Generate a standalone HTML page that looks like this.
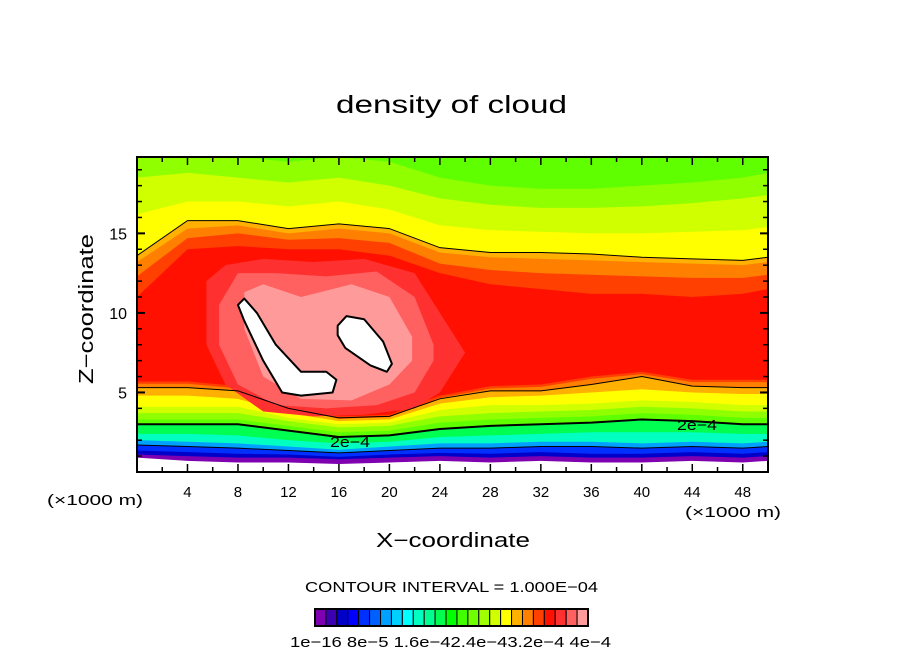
<!DOCTYPE html>
<html><head><meta charset="utf-8"><style>
html,body{margin:0;padding:0;background:#fff;}
svg{display:block;font-family:"Liberation Sans",sans-serif;}
</style></head><body>
<svg id="chart" width="904" height="654" viewBox="0 0 904 654" xmlns="http://www.w3.org/2000/svg">
<defs><clipPath id="pc"><rect x="137" y="157" width="631" height="315"/></clipPath></defs>
<text x="336" y="113" font-size="25" textLength="231" lengthAdjust="spacingAndGlyphs">density of cloud</text>
<g id="plot" clip-path="url(#pc)"></g>
<g id="lines" clip-path="url(#pc)"></g>
<rect x="137" y="157" width="631" height="315" fill="none" stroke="#000" stroke-width="2"/>
<g id="ticks"></g>
<text transform="translate(93,384) rotate(-90)" font-size="20" textLength="150" lengthAdjust="spacingAndGlyphs">Z−coordinate</text>
<text x="376" y="547" font-size="20" textLength="154" lengthAdjust="spacingAndGlyphs">X−coordinate</text>
<text x="47" y="505" font-size="15" textLength="96" lengthAdjust="spacingAndGlyphs">(×1000 m)</text>
<text x="685" y="517" font-size="15" textLength="96" lengthAdjust="spacingAndGlyphs">(×1000 m)</text>
<text x="305" y="592" font-size="15" textLength="293" lengthAdjust="spacingAndGlyphs">CONTOUR INTERVAL = 1.000E−04</text>
<g id="cbar"></g>
<text x="290" y="647" font-size="15" textLength="321" lengthAdjust="spacingAndGlyphs">1e−16 8e−5 1.6e−42.4e−43.2e−4 4e−4</text>
</svg>
<script>
const xs=[0,4,8,12,16,20,24,28,32,36,40,44,48,50];
const palette=['#7f00b0','#3c00b0','#0000c8','#0000ff','#0030ff','#0060ff','#00a0ff','#00d0ff','#00ffff','#00ffc0','#00ff90','#00ff50','#00ff00','#40ff00','#70ff00','#a0ff00','#d0ff00','#ffff00','#ffb000','#ff8000','#ff4000','#ff1000','#ff3030','#ff6060','#ff9a9a'];
const loPurple=[0.9,0.7,0.6,0.6,0.5,0.6,0.7,0.6,0.7,0.6,0.6,0.7,0.6,0.7];
const loIndigo=[1.1,1.0,0.9,0.9,0.8,0.9,1.0,0.9,1.0,0.9,0.9,1.0,0.9,1.0];
const loBlue=[1.35,1.25,1.15,1.1,0.95,1.1,1.2,1.15,1.25,1.15,1.15,1.25,1.15,1.25];
const loSky=[1.7,1.6,1.5,1.35,1.2,1.35,1.5,1.5,1.6,1.6,1.5,1.6,1.5,1.6];
const loCyan=[2.0,1.9,1.8,1.6,1.4,1.6,1.8,1.8,1.9,1.9,1.8,1.9,1.8,1.9];
const loAqua=[2.4,2.4,2.3,2.0,1.8,1.9,2.2,2.3,2.4,2.5,2.5,2.5,2.4,2.4];
const loGreen=[3.0,3.0,3.0,2.6,2.2,2.3,2.7,2.9,3.0,3.1,3.3,3.2,3.0,3.0];
const loLime=[3.3,3.3,3.3,2.9,2.5,2.6,3.1,3.3,3.4,3.5,3.7,3.6,3.4,3.4];
const loYG=[3.7,3.7,3.7,3.2,2.8,2.9,3.5,3.7,3.8,3.9,4.1,4.0,3.8,3.8];
const loYellow=[4.1,4.1,4.1,3.4,3.0,3.1,3.9,4.2,4.2,4.3,4.5,4.4,4.2,4.2];
const loAmber=[4.8,4.8,4.6,3.7,3.2,3.3,4.3,4.7,4.8,5.0,5.2,5.0,4.9,4.9];
const loOrange=[5.3,5.3,5.1,4.0,3.4,3.5,4.6,5.1,5.1,5.5,6.0,5.4,5.3,5.3];
const loRed=[5.7,5.7,5.4,4.2,3.5,3.6,4.8,5.4,5.5,6.0,6.3,5.8,5.8,5.8];
const hiLime=[20,20,19.8,19.5,19.8,19.5,18.5,18,17.8,17.8,18,18.2,18.5,18.8];
const hiYG=[18.5,18.8,18.5,18.2,18.5,18,17.2,16.8,16.6,16.6,16.7,16.9,17.2,17.4];
const hiYellow=[16.2,17,17,16.7,17,16.5,15.5,15.2,15.1,15,15,15.1,15.2,15.4];
const hiAmber=[13.6,15.8,15.8,15.3,15.6,15.3,14.1,13.8,13.8,13.7,13.5,13.4,13.3,13.5];
const hiOrange=[13.2,15.3,15.5,15,15.3,15,13.8,13.5,13.4,13.3,13.2,13.1,13,13.2];
const hiOrangeRed=[12.3,14.7,15,14.6,14.7,14.4,13.1,12.7,12.5,12.4,12.3,12.2,12.2,12.4];
const hiRed=[11,14,14.2,14,14,13.6,12.5,11.8,11.5,11.2,11.2,11,11.2,11.5];
const xsRed2=[5.5,7,10,14,18,22,24,26], loRed2=[8,5.5,3.8,3.5,3.6,4,5,7.5], hiRed2=[12,13,13.4,13.2,13.4,12.5,10,7.5];
const xsSalmon=[6.5,8,11,15,19,22,23.5], loSalmon=[8,5.5,4.2,4,4.2,5,7], hiSalmon=[10.5,12.5,12.5,12.3,12.6,11,8];
const xsPink=[8.5,10,13,17,20,21.8], loPink=[9,6,4.6,4.5,5.5,7], hiPink=[11.3,11.8,11,11.8,11,8.5];
const blob1X=[8.0,8.5,9.5,11,13,15,15.8,15.5,13,11.5,10,8.5];
const blob1Z=[10.5,10.9,10,8,6.3,6.3,5.8,5,4.8,5,7,9.5];
const blob2X=[15.9,16.6,18,19.5,20.2,19.8,18.5,16.5,15.9];
const blob2Z=[9.2,9.8,9.6,8.2,6.8,6.3,6.7,7.8,8.6];
const xTicks=[4,8,12,16,20,24,28,32,36,40,44,48];
const zTicks=[5,10,15];

const X0=137,X1=768,Y0=472,Y1=157,XMAX=50,ZMAX=19.8;
const sx=v=>X0+(X1-X0)*v/XMAX;
const sz=v=>Y0-(Y0-Y1)*v/ZMAX;
const NS='http://www.w3.org/2000/svg';
function mk(tag,attrs,parent){const e=document.createElementNS(NS,tag);for(const k in attrs)e.setAttribute(k,attrs[k]);parent.appendChild(e);return e;}
const plot=document.getElementById('plot');
function band(x,lo,hi,color,name){
  let d='M'+x.map((v,i)=>sx(v)+','+sz(lo[i])).join('L');
  for(let i=x.length-1;i>=0;i--)d+='L'+sx(x[i])+','+sz(hi[i]);
  const p=mk('path',{d:d+'Z',fill:color},plot);
  
  
}
const topLevel=xs.map(()=>20.5);
band(xs,loPurple,topLevel,palette[0],'band-purple');
band(xs,loIndigo,topLevel,palette[2],'band-indigo');
band(xs,loBlue,topLevel,palette[4],'band-blue');
band(xs,loSky,topLevel,palette[6],'band-sky');
band(xs,loCyan,topLevel,palette[9],'band-cyan');
band(xs,loAqua,topLevel,palette[11],'band-aqua');
band(xs,loGreen,topLevel,'#60ff00','band-green');
band(xs,loLime,hiLime,'#90ff00','band-lime');
band(xs,loYG,hiYG,palette[16],'band-yellowgreen');
band(xs,loYellow,hiYellow,palette[17],'band-yellow');
band(xs,loAmber,hiAmber,palette[18],'band-amber');
band(xs,loOrange,hiOrange,palette[19],'band-orange');
band(xs,loRed.map(v=>v-0.15),hiOrangeRed,palette[20],'band-orangered');
band(xs,loRed,hiRed,palette[21],'band-red');
band(xsRed2,loRed2,hiRed2,palette[22],'band-red2');
band(xsSalmon,loSalmon,hiSalmon,palette[23],'band-salmon');
band(xsPink,loPink,hiPink,palette[24],'band-pink');
const lines=document.getElementById('lines');
function line(x,z,w,name){
  const p=mk('path',{d:'M'+x.map((v,i)=>sx(v)+','+sz(z[i])).join('L'),fill:'none',stroke:'#000','stroke-width':w},lines);
  
  
}
function blob(x,z,name){
  const p=mk('path',{d:'M'+x.map((v,i)=>sx(v)+','+sz(z[i])).join('L')+'Z',fill:'#fff',stroke:'#000','stroke-width':2,'stroke-linejoin':'round'},lines);
  
  
}
blob(blob1X,blob1Z,'max-region-left');
blob(blob2X,blob2Z,'max-region-right');
line(xs,hiAmber,1,'contour-3e-4-upper');
line(xs,loOrange,1,'contour-3e-4-lower');
line(xs,loGreen,2,'contour-2e-4');
line(xs,loSky,1,'contour-1e-4');
function lbl(x,y,name){
  const t=mk('text',{x:x,y:y,'font-size':15,textLength:40,lengthAdjust:'spacingAndGlyphs'},lines);
  t.textContent='2e−4';
  
  
}
lbl(330,447,'contour-label-left');
lbl(677,430,'contour-label-right');
const tk=document.getElementById('ticks');
for(let v=2;v<50;v+=2){
  const big=v%4===0,L=big?8:5;
  mk('line',{x1:sx(v),x2:sx(v),y1:Y0,y2:Y0-L,stroke:'#000','stroke-width':1.5},tk);
  mk('line',{x1:sx(v),x2:sx(v),y1:Y1,y2:Y1+L,stroke:'#000','stroke-width':1.5},tk);
}
for(let v=1;v<20;v++){
  const big=v%5===0,L=big?8:5;
  mk('line',{x1:X0,x2:X0+L,y1:sz(v),y2:sz(v),stroke:'#000','stroke-width':big?2:1.5},tk);
  mk('line',{x1:X1,x2:X1-L,y1:sz(v),y2:sz(v),stroke:'#000','stroke-width':big?2:1.5},tk);
}
xTicks.forEach(v=>{
  const t=mk('text',{x:sx(v),y:497,'font-size':15,'text-anchor':'middle'},tk);
  t.textContent=v;
  
  
});
zTicks.forEach(v=>{
  const t=mk('text',{x:127,y:sz(v)+6,'font-size':16,'text-anchor':'end'},tk);
  t.textContent=v;
  
  
});
const cb=document.getElementById('cbar');
const bw=273/palette.length;
palette.forEach((c,i)=>{
  const r=mk('rect',{x:315+i*bw,y:609,width:bw,height:17,fill:c,stroke:'#000','stroke-width':1},cb);
  
  
});
mk('rect',{x:315,y:609,width:273,height:17,fill:'none',stroke:'#000','stroke-width':2},cb);
</script>
</body></html>
